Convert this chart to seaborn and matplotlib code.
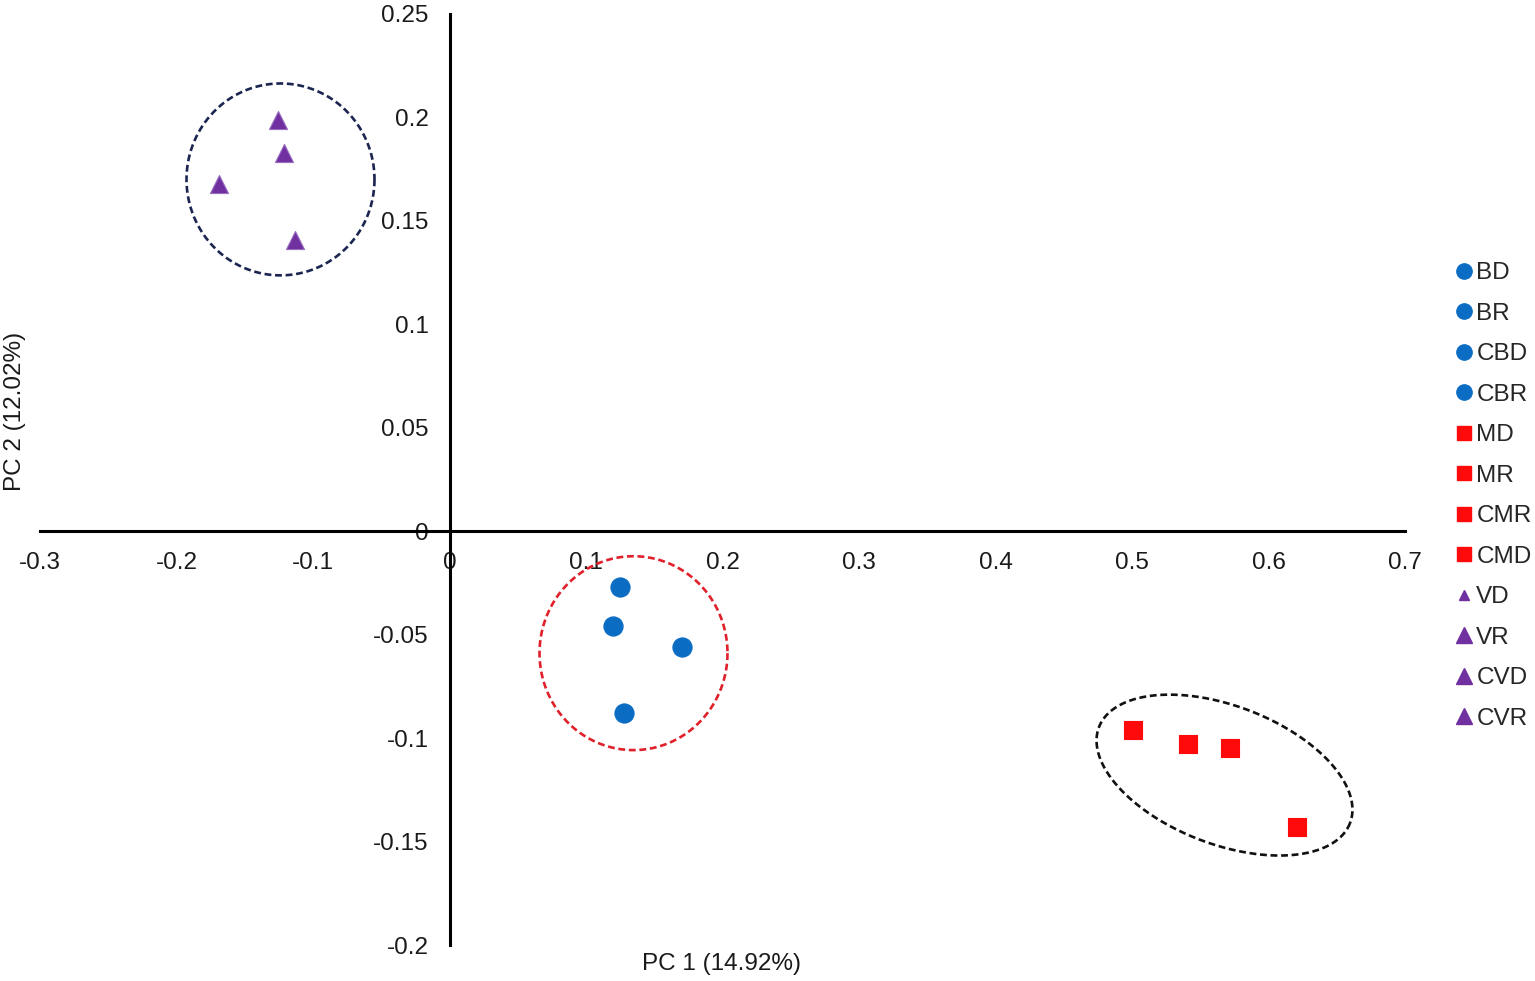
import numpy as np
import pandas as pd
import matplotlib
matplotlib.use("Agg")
import matplotlib.pyplot as plt
from matplotlib.lines import Line2D
import seaborn as sns

sns.set_theme(style="white")
plt.rcParams['font.family'] = ['Liberation Sans', 'DejaVu Sans']

labels = ["BD", "BR", "CBD", "CBR", "MD", "MR", "CMR", "CMD", "VD", "VR", "CVD", "CVR"]
groups = ["B", "B", "B", "B", "M", "M", "M", "M", "V", "V", "V", "V"]
pc1 = [0.125, 0.120, 0.170, 0.128, 0.501, 0.541, 0.572, 0.621, -0.126, -0.121, -0.169, -0.113]
pc2 = [-0.027, -0.046, -0.056, -0.088, -0.096, -0.103, -0.105, -0.143, 0.199, 0.183, 0.168, 0.141]

xticks = [-0.3, -0.2, -0.1, 0, 0.1, 0.2, 0.3, 0.4, 0.5, 0.6, 0.7]
yticks = [-0.2, -0.15, -0.1, -0.05, 0, 0.05, 0.1, 0.15, 0.2, 0.25]

colors = {"B": "#0A6CC2", "M": "#FF0A0A", "V": "#7030A0"}
markers = {"B": "o", "M": "s", "V": "^"}
sizes = {"B": 190, "M": 150, "V": 170}

df = pd.DataFrame({"label": labels, "group": groups, "pc1": pc1, "pc2": pc2})

fig = plt.figure(figsize=(15.35, 9.81), dpi=100)
ax = fig.add_axes([40/1535, 1 - 945/981, (1405-40)/1535, (945-14)/981])

for g in ["B", "M", "V"]:
    sub = df[df.group == g]
    sns.scatterplot(data=sub, x="pc1", y="pc2", ax=ax, color=colors[g], marker=markers[g],
                    s=sizes[g], edgecolor=("#9A70C0" if g == "V" else colors[g]),
                    linewidth=0.8, legend=False, zorder=5)

ax.set_xlim(-0.3, 0.7)
ax.set_ylim(-0.2, 0.25)
ax.set_xticks(xticks)
ax.set_yticks(yticks)
ax.set_xticklabels([f"{t:g}" for t in xticks])
ax.set_yticklabels([f"{t:g}" for t in yticks])

for s in ["top", "right"]:
    ax.spines[s].set_visible(False)
ax.spines["left"].set_position(("data", 0))
ax.spines["bottom"].set_position(("data", 0))
for s in ["left", "bottom"]:
    ax.spines[s].set_linewidth(2.2)
    ax.spines[s].set_color("black")
ax.tick_params(axis="x", length=0, pad=15, labelsize=17.5, colors="#1a1a1a")
ax.tick_params(axis="y", length=0, pad=15, labelsize=17.5, colors="#1a1a1a")
ax.set_xlabel("")
ax.set_ylabel("")

# Dashed cluster outlines (pixel-space ellipses converted to data units)
sx = 1365.0  # px per 1.0 in x
sy = 2070.0  # px per 1.0 in y
t = np.linspace(0, 2 * np.pi, 400)

def draw_ellipse(cx_px, cy_px, a, b, theta_deg, color):
    th = np.deg2rad(theta_deg)
    px = a * np.cos(t) * np.cos(th) - b * np.sin(t) * np.sin(th)
    py = a * np.cos(t) * np.sin(th) + b * np.sin(t) * np.cos(th)
    xd = (cx_px + px - 450) / sx
    yd = (531 - (cy_px + py)) / sy
    ax.plot(xd, yd, color=color, lw=1.9, dashes=(2.6, 1.4), zorder=4)

draw_ellipse(281, 179, 94, 96, 0, "#1B2550")
draw_ellipse(634, 653, 94, 97, 0, "#E0202A")
draw_ellipse(1225, 775, 134.4, 69.2, 20.9, "#111111")

fig.text(722/1535, 1 - 964/981, "PC 1 (14.92%)", ha="center", va="center", fontsize=17.5, color="#1a1a1a")
fig.text(15/1535, 1 - 411/981, "PC 2 (12.02%)", ha="center", va="center", rotation=90, fontsize=17.5, color="#1a1a1a")

handles = []
for lab, g in zip(labels, groups):
    ms = {"B": 11, "M": 10, "V": 11}[g]
    if lab == "VD":
        ms = 7
    handles.append(Line2D([0], [0], linestyle="none", marker=markers[g], color=colors[g],
                          markersize=ms, label=lab))
fig.legend(handles=handles, loc="center left", bbox_to_anchor=(1452/1535, 1 - 496/981),
           frameon=False, fontsize=17.5, handletextpad=0.0, labelspacing=0.76,
           handlelength=1.0, borderpad=0, borderaxespad=0)

fig.savefig("out.png", dpi=100)
